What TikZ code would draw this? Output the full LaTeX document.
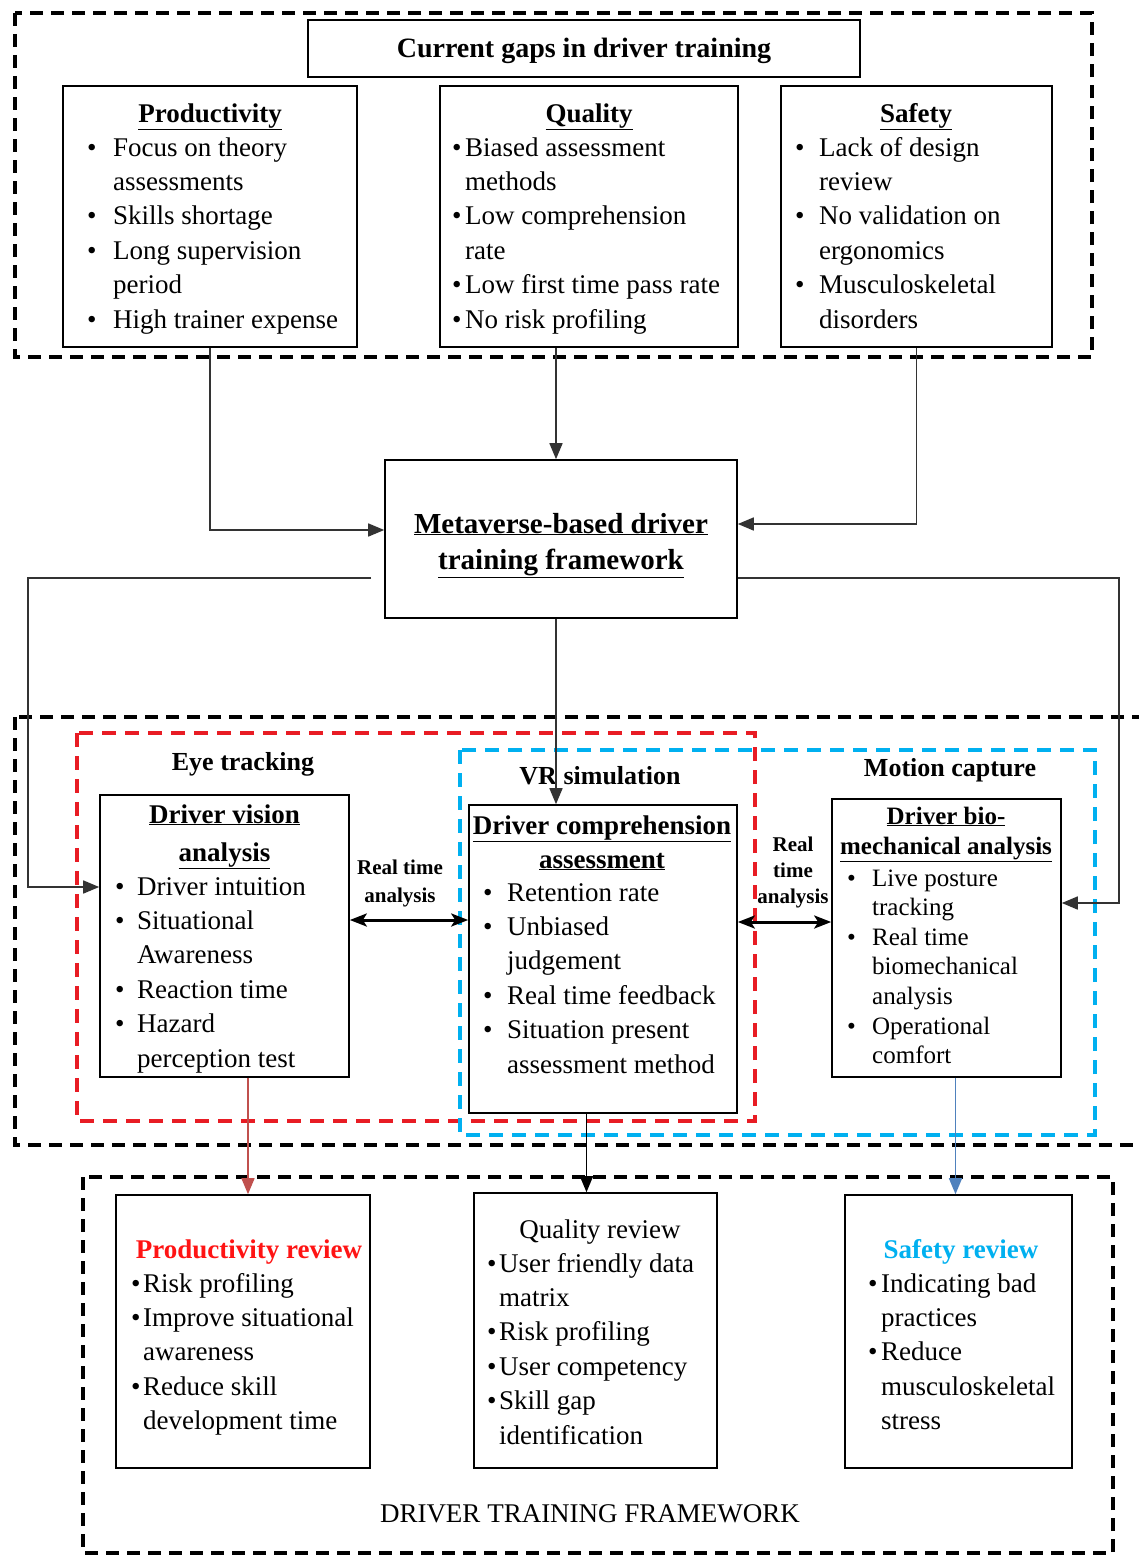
\documentclass[tikz,border=0pt]{standalone}
\usepackage{fontspec}
\setmainfont{Liberation Serif}
\usetikzlibrary{arrows.meta,fit}
\definecolor{dred}{RGB}{232,28,36}
\definecolor{dcyan}{RGB}{0,176,240}
\definecolor{ared}{RGB}{192,80,77}
\definecolor{ablue}{RGB}{79,129,189}
\definecolor{prodred}{RGB}{255,20,20}
\newlength\bulwid
\newcommand{\bulitem}{\makebox[\bulwid][l]{\textbullet}}
\newcommand{\bulcont}{\hspace*{\bulwid}}
\tikzset{
  box/.style={draw, line width=1.6pt, inner sep=0pt},
  blkdash/.style={draw=black, line width=3.5pt, dash pattern=on 13pt off 8pt},
  reddash/.style={draw=dred, line width=3.5pt, dash pattern=on 14pt off 9pt},
  cyandash/.style={draw=dcyan, line width=3.5pt, dash pattern=on 14pt off 9pt},
  conn/.style={draw=black!80, line width=1.6pt, -{Triangle[length=16pt,width=13pt]}},
  dbl/.style={draw=black, line width=3pt, {Stealth[length=17pt,width=13pt,inset=4pt]}-{Stealth[length=17pt,width=13pt,inset=4pt]}},
  txt/.style={inner sep=0pt, font=\fontsize{27}{34.4}\selectfont},
  txtb/.style={inner sep=0pt, font=\fontsize{25}{29.6}\selectfont},
  ttl/.style={inner sep=0pt, font=\fontsize{27}{34.4}\selectfont\bfseries},
  lbl/.style={inner sep=0pt, font=\fontsize{26}{32}\selectfont\bfseries},
  rta/.style={inner sep=0pt, font=\fontsize{21}{28}\selectfont\bfseries},
}
\begin{document}
\begin{tikzpicture}[x=1pt,y=-1pt]
\useasboundingbox (0,0) rectangle (1138,1555);
\fill[white] (0,0) rectangle (1138,1555);

% dashed groups
\draw[blkdash] (15,13) rectangle (1092,357);
\draw[blkdash] (15,717) rectangle (1160,1145);
\draw[reddash] (77,733) rectangle (755,1121);
\draw[cyandash] (460,750) rectangle (1095,1135);
\draw[blkdash] (83,1177) rectangle (1113,1553);

% boxes
\node[box, fit={(308,20) (860,77)}] (gaps) {};
\node[box, fit={(63,86) (357,347)}] (prod) {};
\node[box, fit={(440,86) (738,347)}] (qual) {};
\node[box, fit={(781,86) (1052,347)}] (saf) {};
\node[box, fit={(385,460) (737,618)}] (meta) {};
\node[box, fit={(100,795) (349,1077)}] (vis) {};
\node[box, fit={(469,805) (737,1113)}] (comp) {};
\node[box, fit={(832,799) (1061,1077)}] (bio) {};
\node[box, fit={(116,1195) (370,1468)}] (prodrev) {};
\node[box, fit={(474,1193) (717,1468)}] (qualrev) {};
\node[box, fit={(845,1195) (1072,1468)}] (saferev) {};

% top texts
\node[inner sep=0pt, font=\fontsize{28}{34}\selectfont\bfseries, anchor=base] (gapst) at (584,58) {Current gaps in driver training};
\node[ttl, anchor=base] (prodt) at (210,122) {\underline{Productivity}};
\node[ttl, anchor=base] (qualt) at (589,122) {\underline{Quality}};
\node[ttl, anchor=base] (saft) at (916,122) {\underline{Safety}};

\node[txt, anchor=base west] (prodl) at (87,156) {\setlength\bulwid{26pt}\begin{tabular}[t]{@{}l@{}}
\bulitem Focus on theory\\
\bulcont assessments\\
\bulitem Skills shortage\\
\bulitem Long supervision\\
\bulcont period\\
\bulitem High trainer expense
\end{tabular}};
\node[txt, anchor=base west] (quall) at (452,156) {\setlength\bulwid{13pt}\begin{tabular}[t]{@{}l@{}}
\bulitem Biased assessment\\
\bulcont methods\\
\bulitem Low comprehension\\
\bulcont rate\\
\bulitem Low first time pass rate\\
\bulitem No risk profiling
\end{tabular}};
\node[txt, anchor=base west] (safl) at (795,156) {\setlength\bulwid{24pt}\begin{tabular}[t]{@{}l@{}}
\bulitem Lack of design\\
\bulcont review\\
\bulitem No validation on\\
\bulcont ergonomics\\
\bulitem Musculoskeletal\\
\bulcont disorders
\end{tabular}};

% metaverse
\node[inner sep=0pt, font=\fontsize{29}{36}\selectfont\bfseries, anchor=base] (metat) at (561,533) {\begin{tabular}[t]{@{}c@{}}\underline{Metaverse-based driver}\\\underline{training framework}\end{tabular}};

% group labels
\node[lbl, anchor=base] (eyel) at (243,770) {Eye tracking};
\node[lbl, anchor=base] (vrl) at (600,784) {VR simulation};
\node[lbl, anchor=base] (motl) at (950,776) {Motion capture};

% vision box
\node[inner sep=0pt, font=\fontsize{27}{38}\selectfont\bfseries, anchor=base] (vist) at (224.5,823) {\begin{tabular}[t]{@{}c@{}}\underline{Driver vision}\\\underline{analysis}\end{tabular}};
\node[txt, anchor=base west] (visl) at (115,895) {\setlength\bulwid{22pt}\begin{tabular}[t]{@{}l@{}}
\bulitem Driver intuition\\
\bulitem Situational\\
\bulcont Awareness\\
\bulitem Reaction time\\
\bulitem Hazard\\
\bulcont perception test
\end{tabular}};

% comprehension box
\node[inner sep=0pt, font=\fontsize{27}{34}\selectfont\bfseries, anchor=base] (compt) at (602,834) {\begin{tabular}[t]{@{}c@{}}\underline{Driver comprehension}\\\underline{assessment}\end{tabular}};
\node[txt, anchor=base west] (compl) at (483,901) {\setlength\bulwid{24pt}\begin{tabular}[t]{@{}l@{}}
\bulitem Retention rate\\
\bulitem Unbiased\\
\bulcont judgement\\
\bulitem Real time feedback\\
\bulitem Situation present\\
\bulcont assessment method
\end{tabular}};

% bio box
\node[inner sep=0pt, font=\fontsize{25}{30}\selectfont\bfseries, anchor=base] (biot) at (946,824) {\begin{tabular}[t]{@{}c@{}}\underline{Driver bio-}\\\underline{mechanical analysis}\end{tabular}};
\node[txtb, anchor=base west] (biol) at (847,886) {\setlength\bulwid{25pt}\begin{tabular}[t]{@{}l@{}}
\bulitem Live posture\\
\bulcont tracking\\
\bulitem Real time\\
\bulcont biomechanical\\
\bulcont analysis\\
\bulitem Operational\\
\bulcont comfort
\end{tabular}};

% real time analysis labels
\node[rta, anchor=base] (rta1) at (400,874) {\begin{tabular}[t]{@{}c@{}}Real time\\analysis\end{tabular}};
\node[inner sep=0pt, font=\fontsize{21}{26}\selectfont\bfseries, anchor=base] (rta2) at (793,851) {\begin{tabular}[t]{@{}c@{}}Real\\time\\analysis\end{tabular}};

% reviews
\node[ttl, anchor=base, text=prodred] (prodrevt) at (249,1258) {Productivity review};
\node[txt, anchor=base west] (prodrevl) at (131,1292) {\setlength\bulwid{12pt}\begin{tabular}[t]{@{}l@{}}
\bulitem Risk profiling\\
\bulitem Improve situational\\
\bulcont awareness\\
\bulitem Reduce skill\\
\bulcont development time
\end{tabular}};
\node[txt, anchor=base] (qualrevt) at (600,1238) {Quality review};
\node[txt, anchor=base west] (qualrevl) at (487,1272) {\setlength\bulwid{12pt}\begin{tabular}[t]{@{}l@{}}
\bulitem User friendly data\\
\bulcont matrix\\
\bulitem Risk profiling\\
\bulitem User competency\\
\bulitem Skill gap\\
\bulcont identification
\end{tabular}};
\node[ttl, anchor=base, text=dcyan] (saferevt) at (961,1258) {Safety review};
\node[txt, anchor=base west] (saferevl) at (868,1292) {\setlength\bulwid{13pt}\begin{tabular}[t]{@{}l@{}}
\bulitem Indicating bad\\
\bulcont practices\\
\bulitem Reduce\\
\bulcont musculoskeletal\\
\bulcont stress
\end{tabular}};

\node[txt, anchor=base] (dtf) at (590,1522) {DRIVER TRAINING FRAMEWORK};

% connectors
\draw[conn] (prod.south) |- ([yshift=9pt]meta.west);
\draw[conn] ([xshift=-5pt]meta.north |- qual.south) -- ([xshift=-5pt]meta.north);
\draw[conn] (saf.south) |- ([yshift=15pt]meta.east);
\draw[conn] ([xshift=-13pt,yshift=-39pt]meta.west) -- ++(-343,0) |- ([yshift=49pt]vis.west);
\draw[conn] ([yshift=-39pt]meta.east) -- ++(381,0) |- ([yshift=35pt]bio.east);
\draw[conn] ([xshift=-5pt]meta.south) -- ([xshift=-5pt]meta.south |- comp.north);
\draw[dbl] ([yshift=16pt]vis.east) -- ([yshift=16pt]vis.east -| comp.west);
\draw[dbl] ([yshift=37pt]comp.east) -- ([yshift=37pt]comp.east -| bio.west);
\draw[conn, draw=ared, fill=ared] ([xshift=5pt]prodrev.north |- vis.south) -- ([xshift=5pt]prodrev.north);
\draw[conn, draw=black, fill=black] ([xshift=-9pt]qualrev.north |- comp.south) -- ([xshift=-9pt]qualrev.north);
\draw[conn, draw=ablue, fill=ablue] ([xshift=-3pt]saferev.north |- bio.south) -- ([xshift=-3pt]saferev.north);
\end{tikzpicture}
\end{document}
